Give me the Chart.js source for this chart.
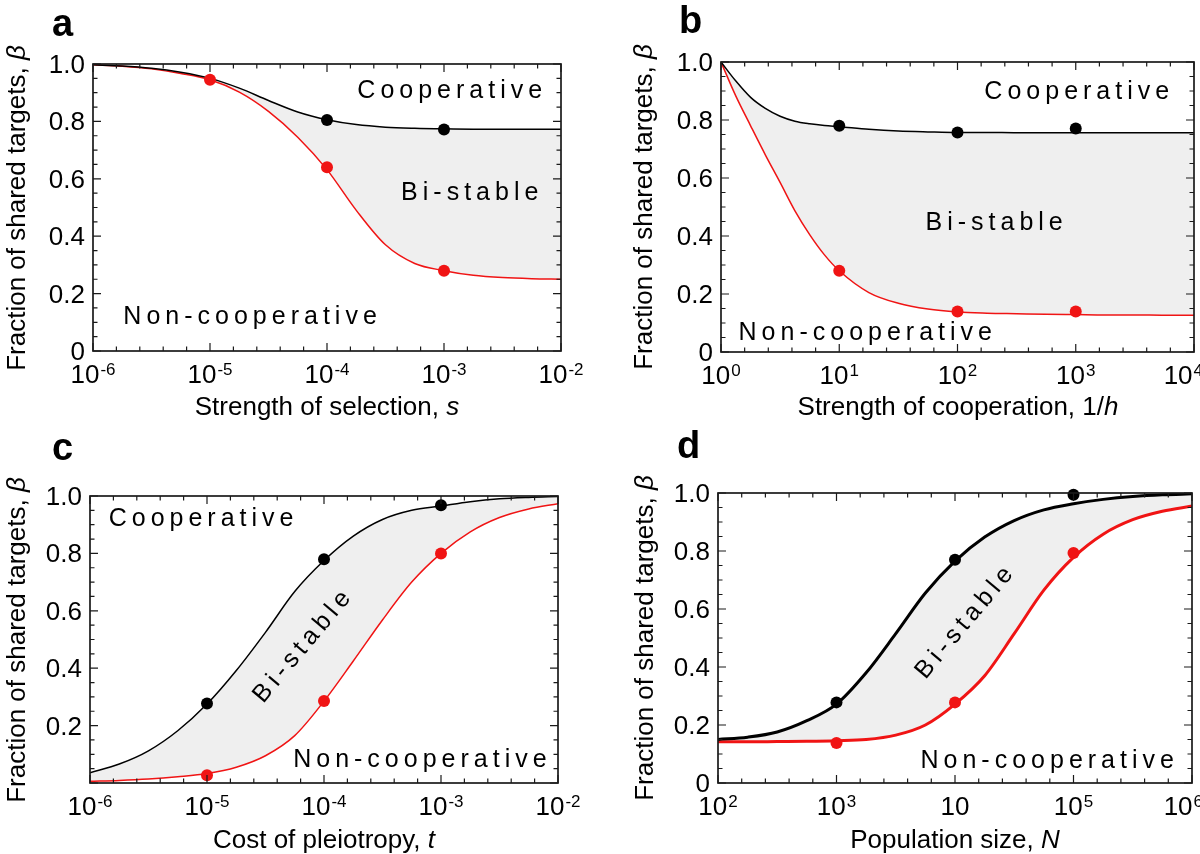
<!DOCTYPE html>
<html>
<head>
<meta charset="utf-8">
<script src="https://cdn.jsdelivr.net/npm/chart.js@4.4.1/dist/chart.umd.min.js"></script>
<style>
  body { margin: 0; background: #fff; }
  #fig { position: relative; width: 1200px; height: 854px; overflow: hidden;
         font-family: "Liberation Sans", Arial, sans-serif; color: #000; }
  canvas { position: absolute; }
  .lbl { position: absolute; white-space: nowrap; line-height: 1; }
  .xt { font-size: 26px; transform: translateX(-50%); }
  .yt { font-size: 26px; transform: translate(-50%, -50%) rotate(-90deg); }
  .pl { font-size: 38px; font-weight: bold; }
</style>
</head>
<body>
<div id="fig">
  <canvas id="ca" width="600" height="427" style="left:0;top:0"></canvas>
  <canvas id="cb" width="600" height="427" style="left:600px;top:0"></canvas>
  <canvas id="cc" width="600" height="427" style="left:0;top:427px"></canvas>
  <canvas id="cd" width="600" height="427" style="left:600px;top:427px"></canvas>

  <div class="lbl pl" style="left:52px;top:4px">a</div>
  <div class="lbl pl" style="left:679px;top:1px">b</div>
  <div class="lbl pl" style="left:52px;top:428px">c</div>
  <div class="lbl pl" style="left:677px;top:426px">d</div>

  <div class="lbl yt" style="left:16px;top:208px">Fraction of shared targets, <i>β</i></div>
  <div class="lbl yt" style="left:643px;top:207px">Fraction of shared targets, <i>β</i></div>
  <div class="lbl yt" style="left:16px;top:640px">Fraction of shared targets, <i>β</i></div>
  <div class="lbl yt" style="left:644px;top:638px">Fraction of shared targets, <i>β</i></div>

  <div class="lbl xt" style="left:327px;top:393px">Strength of selection, <i>s</i></div>
  <div class="lbl xt" style="left:958px;top:393px">Strength of cooperation, 1/<i>h</i></div>
  <div class="lbl xt" style="left:324px;top:826px">Cost of pleiotropy, <i>t</i></div>
  <div class="lbl xt" style="left:955px;top:826px">Population size, <i>N</i></div>
</div>

<script>
// ---- panel a : strength of selection ----
const aX = [1e-6, 1.78e-6, 3.16e-6, 5.62e-6, 1e-5, 1.78e-5, 3.16e-5, 5.62e-5, 1e-4,
            1.78e-4, 3.16e-4, 5.62e-4, 1e-3, 1.78e-3, 3.16e-3, 5.62e-3, 1e-2];
const aCoop = [0.997, 0.993, 0.985, 0.971, 0.950, 0.916, 0.873, 0.833, 0.806,
               0.789, 0.780, 0.776, 0.774, 0.773, 0.773, 0.773, 0.773];
const aNon = [0.997, 0.992, 0.983, 0.967, 0.945, 0.902, 0.835, 0.745, 0.632,
              0.490, 0.370, 0.305, 0.280, 0.264, 0.256, 0.252, 0.250];
const aDotX = [1e-5, 1e-4, 1e-3];
const aDotCoop = [null, 0.805, 0.772];
const aDotNon = [0.945, 0.640, 0.280];

// ---- panel b : strength of cooperation ----
const bX = [1, 1.33, 1.78, 2.37, 3.16, 4.22, 5.62, 7.5, 10, 17.8, 31.6, 56.2, 100,
            178, 316, 562, 1000, 1778, 3162, 5623, 10000];
const bCoop = [1.0, 0.935, 0.878, 0.840, 0.813, 0.796, 0.787, 0.781, 0.777, 0.768, 0.762, 0.759, 0.757,
               0.757, 0.756, 0.756, 0.756, 0.756, 0.756, 0.756, 0.756];
const bNon = [1.0, 0.884, 0.780, 0.680, 0.585, 0.487, 0.405, 0.335, 0.280, 0.205, 0.168, 0.148, 0.138,
              0.134, 0.132, 0.130, 0.129, 0.128, 0.128, 0.127, 0.127];
const bDotX = [10, 100, 1000];
const bDotCoop = [0.780, 0.757, 0.771];
const bDotNon = [0.280, 0.140, 0.140];

// ---- panel c : cost of pleiotropy ----
const cX = [1e-6, 1.78e-6, 3.16e-6, 5.62e-6, 1e-5, 1.78e-5, 3.16e-5, 5.62e-5, 1e-4,
            1.78e-4, 3.16e-4, 5.62e-4, 1e-3, 1.78e-3, 3.16e-3, 5.62e-3, 1e-2];
const cCoop = [0.036, 0.066, 0.112, 0.182, 0.275, 0.392, 0.525, 0.667, 0.775,
               0.860, 0.918, 0.950, 0.965, 0.980, 0.990, 0.995, 0.998];
const cNon = [0.006, 0.009, 0.014, 0.022, 0.033, 0.055, 0.095, 0.165, 0.285,
              0.425, 0.568, 0.700, 0.800, 0.875, 0.925, 0.955, 0.973];
const cDotX = [1e-5, 1e-4, 1e-3];
const cDotCoop = [0.277, 0.780, 0.968];
const cDotNon = [0.027, 0.286, 0.800];

// ---- panel d : population size ----
const dX = [100, 178, 316, 562, 1000, 1778, 3162, 5623, 1e4,
            1.78e4, 3.16e4, 5.62e4, 1e5, 1.78e5, 3.16e5, 5.62e5, 1e6];
const dCoop = [0.150, 0.158, 0.176, 0.215, 0.272, 0.380, 0.515, 0.655, 0.765,
               0.848, 0.905, 0.942, 0.963, 0.978, 0.988, 0.994, 0.997];
const dNon = [0.142, 0.142, 0.143, 0.144, 0.146, 0.150, 0.165, 0.200, 0.272,
              0.370, 0.515, 0.665, 0.778, 0.858, 0.908, 0.937, 0.955];
const dDotX = [1e3, 1e4, 1e5];
const dDotCoop = [0.278, 0.770, 0.994];
const dDotNon = [0.138, 0.278, 0.793];

// tick labels
const aXTicks = [1e-6, 1e-5, 1e-4, 1e-3, 1e-2];
const aXExp = ['-6', '-5', '-4', '-3', '-2'];
const bXTicks = [1, 10, 100, 1000, 10000];
const bXExp = ['0', '1', '2', '3', '4'];
const cXTicks = [1e-6, 1e-5, 1e-4, 1e-3, 1e-2];
const cXExp = ['-6', '-5', '-4', '-3', '-2'];
const dXTicks = [1e2, 1e3, 1e4, 1e5, 1e6];
const dXExp = ['2', '3', '', '5', '6'];
const yTicks = [0, 0.2, 0.4, 0.6, 0.8, 1.0];
const yLabels = ['0', '0.2', '0.4', '0.6', '0.8', '1.0'];
const yLabelsC = ['', '0.2', '0.4', '0.6', '0.8', '1.0'];

// region labels: text, x, beta, angle
const aRegions = [['Cooperative', 1.12e-3, 0.905, 0], ['Bi-stable', 1.66e-3, 0.549, 0], ['Non-cooperative', 2.2e-5, 0.119, 0]];
const bRegions = [['Cooperative', 1020, 0.895, 0], ['Bi-stable', 204, 0.443, 0], ['Non-cooperative', 16.6, 0.064, 0]];
const cRegions = [['Cooperative', 8.9e-6, 0.92, 0], ['Bi-stable', 6.5e-5, 0.474, -50], ['Non-cooperative', 6.6e-4, 0.08, 0]];
const dRegions = [['Non-cooperative', 6.0e4, 0.074, 0], ['Bi-stable', 1.2e4, 0.552, -50]];

const FONT = '"Liberation Sans", Arial, sans-serif';
const RED = '#f01414';

// frame, inward ticks, tick labels and region labels
const framePlugin = {
    id: 'frame',
    afterDatasetsDraw(chart, args, o) {
        const { ctx, chartArea: area, scales: { x, y } } = chart;
        ctx.save();
        ctx.strokeStyle = '#1a1a1a';
        ctx.lineWidth = 1.2;
        ctx.beginPath();
        const xMark = (v, len) => {
            const px = x.getPixelForValue(v);
            ctx.moveTo(px, area.bottom); ctx.lineTo(px, area.bottom - len);
            ctx.moveTo(px, area.top); ctx.lineTo(px, area.top + len);
        };
        const yMark = (v, len) => {
            const py = y.getPixelForValue(v);
            ctx.moveTo(area.left, py); ctx.lineTo(area.left + len, py);
            ctx.moveTo(area.right, py); ctx.lineTo(area.right - len, py);
        };
        o.xTicks.forEach((v, i) => {
            xMark(v, 8);
            if (i < o.xTicks.length - 1) {
                [0.2, 0.4, 0.6, 0.8].forEach(f => xMark(v * Math.pow(10, f), 4.5));
            }
        });
        for (let k = 0; k <= 20; k++) yMark(k * 0.05, k % 4 === 0 ? 8 : 4.5);
        ctx.stroke();
        ctx.lineWidth = 1.7;
        ctx.strokeRect(area.left, area.top, area.width, area.height);

        // y tick labels
        ctx.fillStyle = '#000';
        ctx.font = '26px ' + FONT;
        ctx.textAlign = 'right';
        ctx.textBaseline = 'alphabetic';
        o.yTicks.forEach((v, i) => {
            if (o.yLabels[i]) ctx.fillText(o.yLabels[i], area.left - 8, y.getPixelForValue(v) + 9);
        });

        // x tick labels 10^n, kept inside the canvas at the right edge
        ctx.textAlign = 'left';
        o.xTicks.forEach((v, i) => {
            const px = x.getPixelForValue(v);
            ctx.font = '26px ' + FONT;
            const wb = ctx.measureText('10').width;
            ctx.font = '17px ' + FONT;
            const we = o.xExp[i] ? ctx.measureText(o.xExp[i]).width + 1 : 0;
            const left = Math.min(px - (wb + we) / 2, chart.width + 3 - (wb + we));
            ctx.font = '26px ' + FONT;
            ctx.fillText('10', left, area.bottom + 32);
            ctx.font = '17px ' + FONT;
            ctx.fillText(o.xExp[i], left + wb + 1, area.bottom + 24);
        });

        // region names
        ctx.font = '25px ' + FONT;
        ctx.letterSpacing = '5px';
        ctx.textAlign = 'center';
        ctx.textBaseline = 'middle';
        o.regions.forEach(([txt, xv, yv, ang]) => {
            ctx.save();
            ctx.translate(x.getPixelForValue(xv), y.getPixelForValue(yv));
            ctx.rotate(ang * Math.PI / 180);
            ctx.fillText(txt, 2.5, 0);
            ctx.restore();
        });
        ctx.restore();
    }
};

function curve(xs, ys, color, width) {
    return {
        data: xs.map((v, i) => ({ x: v, y: ys[i] })),
        borderColor: color,
        borderWidth: width,
        pointRadius: 0,
        cubicInterpolationMode: 'monotone',
        fill: false,
        order: 1
    };
}

function dots(xs, ys, color) {
    return {
        data: xs.map((v, i) => ({ x: v, y: ys[i] })).filter(p => p.y !== null),
        showLine: false,
        pointRadius: 6,
        pointBackgroundColor: color,
        pointBorderWidth: 0,
        clip: false,
        order: 0
    };
}

function makePanel(id, p) {
    const top = curve(p.x, p.coop, '#000', p.lw);
    top.fill = '+1';
    top.backgroundColor = '#efefef';
    new Chart(document.getElementById(id), {
        type: 'line',
        data: {
            datasets: [
                top,
                curve(p.x, p.non, RED, p.lw),
                dots(p.dotX, p.dotCoop, '#000'),
                dots(p.dotX, p.dotNon, RED)
            ]
        },
        options: {
            responsive: false,
            animation: false,
            devicePixelRatio: 1,
            events: [],
            layout: { padding: p.pad },
            scales: {
                x: { type: 'logarithmic', min: p.xTicks[0], max: p.xTicks[p.xTicks.length - 1], display: false },
                y: { min: 0, max: 1, display: false }
            },
            plugins: {
                legend: { display: false },
                tooltip: { enabled: false },
                filler: { drawTime: 'beforeDatasetsDraw' },
                frame: { xTicks: p.xTicks, xExp: p.xExp, yTicks: yTicks, yLabels: p.yLabels, regions: p.regions }
            }
        },
        plugins: [framePlugin]
    });
}

makePanel('ca', { x: aX, coop: aCoop, non: aNon, dotX: aDotX, dotCoop: aDotCoop, dotNon: aDotNon,
    xTicks: aXTicks, xExp: aXExp, yLabels: yLabels, regions: aRegions, lw: 1.5,
    pad: { left: 93, right: 39, top: 64, bottom: 76 } });
makePanel('cb', { x: bX, coop: bCoop, non: bNon, dotX: bDotX, dotCoop: bDotCoop, dotNon: bDotNon,
    xTicks: bXTicks, xExp: bXExp, yLabels: yLabels, regions: bRegions, lw: 1.5,
    pad: { left: 121, right: 5, top: 62, bottom: 75 } });
makePanel('cc', { x: cX, coop: cCoop, non: cNon, dotX: cDotX, dotCoop: cDotCoop, dotNon: cDotNon,
    xTicks: cXTicks, xExp: cXExp, yLabels: yLabelsC, regions: cRegions, lw: 1.5,
    pad: { left: 90, right: 42, top: 69, bottom: 71 } });
makePanel('cd', { x: dX, coop: dCoop, non: dNon, dotX: dDotX, dotCoop: dDotCoop, dotNon: dDotNon,
    xTicks: dXTicks, xExp: dXExp, yLabels: yLabels, regions: dRegions, lw: 3,
    pad: { left: 118, right: 8, top: 66, bottom: 71 } });
</script>
</body>
</html>
